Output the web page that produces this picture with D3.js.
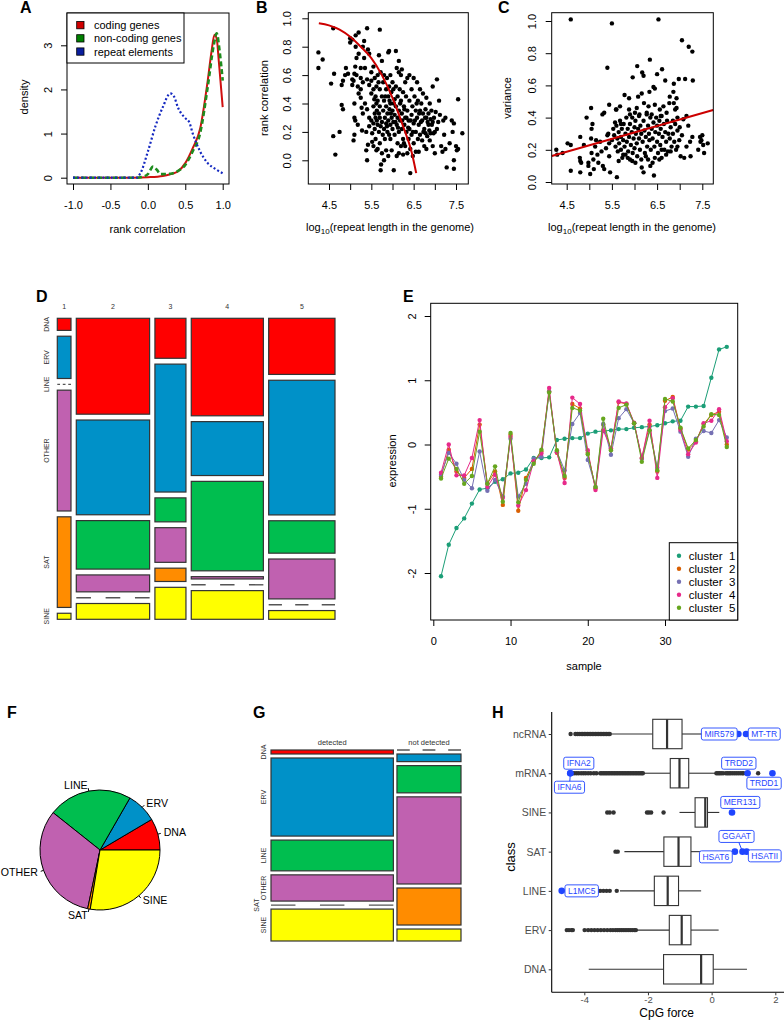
<!DOCTYPE html>
<html><head><meta charset="utf-8">
<script src="https://cdn.jsdelivr.net/npm/d3@7"></script>
<style>body{margin:0;background:#fff} text{font-family:"Liberation Sans",Arial,Helvetica,sans-serif}</style>
</head><body><svg id="c" width="784" height="1020"></svg>
<script>
// ---------------- DATA ----------------
// Panel A: density curves [rank correlation, density]
const densCoding = [[-1,0],[-0.5,0],[-0.2,0],[0,0.01],[0.2,0.04],[0.3,0.08],[0.4,0.14],[0.5,0.33],[0.6,0.67],[0.7,1.12],[0.8,2.2],[0.85,2.85],[0.89,3.24],[0.92,3.15],[0.95,2.6],[1.0,1.6]];
const densNonCoding = [[-1,0],[-0.5,0],[-0.15,0],[-0.05,0.03],[0,0.08],[0.07,0.25],[0.12,0.18],[0.17,0.08],[0.3,0.09],[0.4,0.15],[0.5,0.29],[0.6,0.6],[0.7,1.02],[0.8,2.06],[0.88,3.0],[0.92,3.27],[0.96,2.85],[1.0,2.2]];
const densRepeat = [[-1,0],[-0.5,0],[-0.15,0],[-0.1,0.1],[0,0.59],[0.1,1.16],[0.2,1.6],[0.3,1.91],[0.35,1.84],[0.4,1.6],[0.5,1.35],[0.55,1.27],[0.6,1.0],[0.7,0.59],[0.8,0.33],[0.9,0.2],[1.0,0.1]];
const legendA = ["coding genes","non-coding genes","repeat elements"];
const ticksA_x = [-1,-0.5,0,0.5,1], ticksA_xl = ["-1.0","-0.5","0.0","0.5","1.0"];
const ticksA_y = [0,1,2,3];

// Panel B: scatter [log10 length, rank correlation] + fitted curve
const scatterB = [[4.25,0.76],[4.25,0.65],[4.35,0.71],[4.55,0.54],[4.6,0.93],[4.62,0.61],[4.6,0.17],[4.65,0.04],[4.75,0.2],[4.8,0.53],[4.83,0.56],[4.8,0.39],[4.83,0.36],[4.88,0.6],[4.9,0.65],[4.95,0.61],
[5.0,0.86],[5.0,0.83],[5.05,0.85],[5.05,0.57],[5.08,0.56],[5.05,0.53],[5.1,0.4],[5.1,0.3],[5.12,0.28],[5.1,0.18],[5.08,0.14],[5.13,0.88],[5.13,0.8],[5.15,0.72],[5.15,0.6],[5.18,0.52],[5.18,0.25],[5.2,0.9],[5.2,0.75],[5.2,0.47],[5.1,0.61],[5.12,0.66],
[5.25,0.65],[5.25,0.58],[5.25,0.5],[5.25,0.44],[5.27,0.37],[5.28,0.21],[5.3,0.8],[5.3,0.55],[5.3,0.33],[5.33,0.84],[5.33,0.72],[5.35,0.65],[5.35,0.4],[5.38,0.2],[5.4,0.93],[5.4,0.57],[5.4,0.36],[5.4,0.0],[5.42,0.78],[5.45,0.75],[5.45,0.53],[5.45,0.3],[5.45,0.24],[5.42,0.11],[5.38,0.07],
[5.5,0.62],[5.5,0.56],[5.5,0.47],[5.5,0.28],[5.52,0.19],[5.52,0.13],[5.55,0.66],[5.55,0.5],[5.55,0.38],[5.55,0.26],[5.55,0.1],[5.58,0.58],[5.58,0.33],[5.58,0.22],[5.6,0.45],[5.6,0.3],[5.6,0.15],[5.62,0.52],[5.62,0.07],[5.63,0.35],[5.65,0.6],[5.65,0.42],[5.65,0.25],[5.65,0.08],[5.67,0.55],[5.68,0.2],[5.7,0.92],[5.7,0.5],[5.7,0.38],[5.7,0.3],[5.7,0.12],[5.72,-0.07],[5.73,-0.03],[5.72,0.62],[5.75,0.7],[5.75,0.45],[5.75,0.27],[5.75,0.05],[5.68,0.74],
[5.78,0.55],[5.78,0.35],[5.8,0.6],[5.8,0.42],[5.8,0.22],[5.8,0.0],[5.82,0.3],[5.82,0.15],[5.85,0.5],[5.85,0.38],[5.85,0.26],[5.85,0.07],[5.87,0.58],[5.88,0.33],[5.88,0.2],[5.9,0.76],[5.9,0.45],[5.9,0.28],[5.9,0.03],[5.92,0.77],[5.92,0.52],[5.93,0.36],[5.95,0.6],[5.95,0.4],[5.95,0.25],[5.95,0.15],[5.97,0.48],[5.98,0.3],[5.98,0.07],[6.0,0.55],[6.0,0.35],[6.0,0.22],
[6.02,0.5],[6.02,0.27],[6.03,-0.07],[6.05,0.43],[6.05,0.32],[6.05,0.18],[6.08,0.77],[6.08,0.52],[6.08,0.38],[6.1,0.65],[6.1,0.25],[6.1,0.03],[6.12,0.45],[6.12,0.3],[6.12,0.12],[6.15,0.7],[6.15,0.62],[6.15,0.35],[6.15,0.2],[6.15,0.05],[6.17,0.5],[6.18,0.28],[6.2,0.6],[6.2,0.42],[6.2,0.1],[6.22,0.64],[6.22,0.33],[6.22,0.22],[6.25,0.48],[6.25,0.15],[6.25,0.04],
[6.27,0.38],[6.28,0.25],[6.3,0.55],[6.3,0.3],[6.3,0.1],[6.32,0.45],[6.33,0.2],[6.35,0.58],[6.35,0.35],[6.35,0.05],[6.38,0.28],[6.38,0.15],[6.4,0.6],[6.4,0.42],[6.4,0.22],[6.42,-0.09],[6.42,0.08],[6.45,0.5],[6.45,0.32],[6.45,0.18],[6.47,0.38],[6.5,0.58],[6.5,0.26],[6.5,0.12],[6.48,0.03],
[6.52,0.45],[6.55,0.35],[6.55,0.2],[6.55,0.06],[6.58,0.55],[6.58,0.3],[6.6,0.42],[6.6,0.15],[6.62,0.25],[6.62,0.06],[6.65,0.5],[6.65,0.35],[6.65,0.18],[6.68,0.4],[6.7,0.28],[6.7,0.14],[6.72,0.47],[6.72,0.33],[6.75,0.22],[6.75,0.1],[6.78,0.36],[6.78,0.19],[6.8,0.3],[6.8,0.44],[6.8,0.08],
[6.82,0.17],[6.85,0.33],[6.85,0.25],[6.88,0.4],[6.88,0.14],[6.9,0.29],[6.9,0.19],[6.92,0.35],[6.95,0.52],[6.95,0.27],[6.95,0.1],[6.98,0.3],[7.0,0.2],[7.0,0.05],[7.02,0.34],[7.05,0.57],[7.05,0.22],[7.08,0.27],[7.1,0.42],
[7.12,0.32],[7.15,0.1],[7.18,0.06],[7.2,0.28],[7.22,0.18],[7.25,0.3],[7.25,0.08],[7.28,-0.05],[7.35,0.12],[7.4,0.28],[7.42,0.2],[7.45,0.26],[7.45,-0.06],[7.45,0.0],[7.5,0.1],[7.52,0.07],[7.55,0.43],[7.55,0.08],[7.65,0.19],
[5.62,0.4],[5.68,0.33],[5.72,0.24],[5.77,0.18],[5.83,0.45],[5.87,0.24],[5.92,0.18],[5.96,0.33],[6.03,0.4],[6.07,0.27],[6.13,0.23],[6.18,0.4],[6.23,0.28],[6.28,0.36],[6.33,0.3],[6.37,0.23],[6.43,0.28],[6.48,0.2],[6.53,0.28],[6.57,0.4],[6.63,0.33],[6.67,0.27],[6.73,0.2],[6.77,0.3],[6.83,0.27],[6.87,0.21],[6.93,0.25],[6.97,0.19],[5.57,0.43],[5.63,0.28],[5.93,0.42],[6.27,0.12]];
const fitB = [[4.26,0.965],[4.5,0.95],[4.75,0.92],[5.0,0.87],[5.25,0.8],[5.5,0.72],[5.75,0.6],[6.0,0.44],[6.25,0.24],[6.45,0.06],[6.56,-0.09]];
const ticksBC_x = [4.5,5,5.5,6,6.5,7,7.5], ticksBC_xl = ["4.5","5.5","6.5","7.5"];
const ticksB_y = [0,0.2,0.4,0.6,0.8,1.0];

// Panel C: scatter [log10 length, variance] + regression line
const scatterC = [[4.59,1.01],[5.5,0.985],[6.53,1.01],[7.05,0.88],[7.2,0.84],[7.28,0.81],[7.29,0.63],[5.4,0.71],[6.34,0.76],[6.06,0.72],[6.17,0.68],[6.2,0.66],[6.61,0.7],[6.5,0.67],[5.96,0.65],[6.68,0.63],[6.87,0.61],[6.98,0.64],[7.12,0.64],[6.42,0.59],[6.45,0.58],[6.33,0.56],[6.86,0.56],[5.78,0.54],[6.08,0.53],[5.88,0.52],[6.16,0.55],[6.93,0.52],[6.78,0.53],[6.77,0.49],[6.87,0.49],[6.93,0.46],[5.44,0.48],[5.68,0.47],[5.6,0.45],[5.04,0.46],[4.94,0.4],[5.29,0.42],[5.33,0.43],[6.21,0.49],[6.31,0.47],[6.45,0.48],[6.56,0.45],[6.64,0.47],[6.71,0.43],[6.01,0.43],[5.9,0.42],[6.11,0.42],[6.27,0.43],[6.38,0.42],[6.58,0.41],[7.15,0.41],[7.08,0.39],[7.0,0.34],[7.19,0.35],[7.28,0.28],[7.23,0.25],[7.05,0.29],[6.99,0.26],[6.95,0.22],[7.02,0.16],[7.1,0.15],[7.15,0.22],[7.24,0.16],[7.41,0.2],[7.45,0.28],[7.5,0.29],[7.48,0.26],[7.52,0.23],[7.54,0.18],[7.62,0.24],[7.46,0.25],
[4.27,0.2],[4.29,0.17],[4.41,0.18],[4.52,0.24],[4.59,0.23],[4.59,0.07],[4.8,0.13],[4.8,0.28],[4.79,0.15],[4.82,0.12],[4.88,0.23],[4.8,0.06],[4.98,0.12],[4.98,0.1],[5.02,0.05],[5.04,0.27],[5.05,0.33],[5.07,0.36],[5.05,0.18],[5.09,0.14],[5.1,0.08],[5.13,0.22],[5.15,0.26],[5.18,0.17],[5.2,0.12],[5.24,0.25],[5.27,0.19],[5.3,0.1],[5.33,0.08],[5.37,0.21],[5.4,0.29],[5.44,0.24],[5.46,0.06],[5.5,0.26],[5.44,0.16],[5.42,0.3],[5.61,0.03],[5.59,0.45],[5.57,0.37],[5.53,0.33],
[5.55,0.29],[5.58,0.22],[5.6,0.35],[5.62,0.27],[5.63,0.19],[5.65,0.31],[5.66,0.24],[5.68,0.38],[5.7,0.28],[5.7,0.2],[5.72,0.33],[5.73,0.15],[5.75,0.26],[5.76,0.36],[5.78,0.22],[5.8,0.3],[5.8,0.17],[5.82,0.4],[5.83,0.25],[5.85,0.33],[5.86,0.19],[5.88,0.28],[5.9,0.36],[5.9,0.14],[5.92,0.23],[5.94,0.31],[5.95,0.4],[5.96,0.18],[5.98,0.27],[6.0,0.34],[6.0,0.21],[6.02,0.38],[6.03,0.3],[6.05,0.24],[6.06,0.16],[6.08,0.33],[6.1,0.27],[6.1,0.41],[6.12,0.2],[6.13,0.35],[6.15,0.3],[6.16,0.09],[6.18,0.25],[6.2,0.38],[6.2,0.06],[6.22,0.32],[6.23,0.18],[6.25,0.28],[6.27,0.42],[6.28,0.22],[6.3,0.35],[6.3,0.14],[6.32,0.3],[6.33,0.26],[6.35,0.4],[6.36,0.2],[6.38,0.33],[6.4,0.27],[6.4,0.12],[6.42,0.37],[6.43,0.04],[6.44,0.22],[6.46,0.31],[6.48,0.4],[6.5,0.25],[6.5,0.35],[6.52,0.18],[6.54,0.3],[6.55,0.38],[6.57,0.23],[6.58,0.33],[6.6,0.41],[6.6,0.15],[6.62,0.28],[6.65,0.36],[6.66,0.2],[6.68,0.31],[6.7,0.25],[6.72,0.38],[6.74,0.19],[6.75,0.3],[6.78,0.27],[6.8,0.34],[6.82,0.22],[6.85,0.3],[6.88,0.25],[6.9,0.36],[6.92,0.2],[6.95,0.32],[5.65,0.13],[5.7,0.36],[5.75,0.17],[5.85,0.15],[5.88,0.45],[5.95,0.13],[6.02,0.12],[6.05,0.46],[6.15,0.14],[6.25,0.16],[6.35,0.1],[6.45,0.15],[6.55,0.14],[6.6,0.2],[6.7,0.17],[6.8,0.19],[6.85,0.38],[6.9,0.45],[6.95,0.4]];
const fitC = [[4.17,0.161],[7.74,0.447]];
const ticksC_y = [0,0.2,0.4,0.6,0.8,1.0];

// Panel D: mosaic counts, clusters (columns) x repeat class (rows)
const repClasses = ["DNA","ERV","LINE","OTHER","SAT","SINE"];
const classColors = ["#FF0000","#0091C8","#00BE4F","#C061B0","#FF8C00","#FFFF00"];
const clusterNames = ["1","2","3","4","5"];
const mosaicD = [
  [2,7,0,20,15,1],
  [85,84,43,15,0,14],
  [15,48,9,13,5,12],
  [85,47,78,2,0,25],
  [45,108,26,32,0,7]
];

// Panel E: cluster profiles across 38 samples
const samples = d3.range(1,39);
const cluster1 = [-2.05,-1.56,-1.30,-1.15,-0.92,-0.70,-0.68,-0.58,-0.54,-0.45,-0.44,-0.39,-0.21,-0.21,-0.20,0.07,0.09,0.10,0.10,0.17,0.20,0.21,0.22,0.24,0.24,0.26,0.27,0.28,0.30,0.33,0.36,0.37,0.59,0.59,0.60,1.04,1.48,1.52];
const cluster2 = [-0.50,-0.08,-0.42,-0.52,-0.38,0.31,-0.61,-0.42,-0.94,0.15,-1.03,-0.52,-0.26,-0.11,0.83,-0.13,-0.52,0.63,0.56,-0.13,-0.68,0.31,-0.08,0.66,0.63,0.33,-0.21,0.31,-0.42,0.68,0.74,0.25,-0.08,0.05,0.32,0.46,0.51,0.00];
const cluster3 = [-0.47,-0.13,-0.30,-0.55,-0.68,-0.11,-0.72,-0.55,-0.81,0.09,-0.81,-0.61,-0.22,-0.19,0.82,-0.11,-0.40,0.32,0.49,-0.24,-0.66,0.32,-0.16,0.41,0.55,0.33,-0.22,0.22,-0.36,0.52,0.56,0.20,-0.19,0.09,0.21,0.18,0.38,0.11];
const cluster4 = [-0.44,0.00,-0.48,-0.48,-0.21,0.38,-0.66,-0.47,-0.83,0.12,-0.95,-0.71,-0.26,-0.14,0.88,-0.12,-0.60,0.73,0.63,-0.09,-0.71,0.22,-0.06,0.67,0.64,0.34,-0.21,0.37,-0.52,0.58,0.72,0.23,-0.15,0.03,0.33,0.37,0.55,0.05];
const cluster5 = [-0.53,-0.22,-0.38,-0.61,-0.49,0.20,-0.61,-0.34,-0.89,0.18,-0.90,-0.55,-0.30,-0.08,0.81,-0.09,-0.49,0.57,0.53,-0.15,-0.66,0.40,-0.09,0.57,0.62,0.33,-0.27,0.22,-0.40,0.71,0.67,0.26,-0.06,0.07,0.28,0.47,0.46,-0.04];
const clusterSeries = [cluster1,cluster2,cluster3,cluster4,cluster5];
const clusterColors = ["#1B9E77","#D95F02","#7570B3","#E7298A","#66A61E"];
const ticksE_x = [0,10,20,30], ticksE_y = [-2,-1,0,1,2];

// Panel F: pie shares (%)
const pieValues = [8.5,8.2,22.6,32.4,0.7,27.6];

// Panel G: mosaic detected / not detected
const detectNames = ["detected","not detected"];
const mosaicG = [
  [7,137,54,46,0,56],
  [0,7,25,80,34,11]
];

// Panel H: CpG force boxplots
const hClasses = ["ncRNA","mRNA","SINE","SAT","LINE","ERV","DNA"];
const hLo  = [-3.17,-2.13,-1.01,-2.74,-2.88,-2.37,-3.86];
const hQ1  = [-1.85,-1.30,-0.52,-1.50,-1.80,-1.33,-1.51];
const hMed = [-1.40,-1.01,-0.20,-1.04,-1.38,-0.94,-0.33];
const hQ3  = [-0.93,-0.72,-0.13,-0.65,-1.04,-0.65,0.05];
const hHi  = [-0.30,0.14,0.24,0.20,-0.33,0.22,1.11];
const hOutliers = [
  [-4.43,-4.28,-4.22,-4.16,-4.1,-4.05,-4.0,-3.95,-3.9,-3.85,-3.8,-3.75,-3.7,-3.65,-3.6,-3.55,-3.5,-3.45,-3.4,-3.35,-3.3,-3.25,-3.2],
  [-4.38,-4.32,-4.25,-4.18,-4.1,-4.03,-3.96,-3.88,-3.8,-3.7,-3.62,-3.5,-3.45,-3.4,-3.35,-3.3,-3.25,-3.2,-3.15,-3.1,-3.05,-3.0,-2.95,-2.9,-2.85,-2.8,-2.75,-2.7,-2.65,-2.6,-2.55,-2.5,-2.45,-2.4,-2.35,-2.3,-2.25,-2.2,-2.16,0.15,0.2,0.25,0.3,0.36,0.45,0.5,0.55,0.6,0.66,0.72,0.78,0.84,0.9,0.96,1.0,1.46],
  [-3.28,-3.2,-3.08,-2.03,-1.97,-1.9,-1.51],
  [-3.02,-2.95],
  [-3.57,-3.5,-3.4,-3.3,-3.2,-2.98],
  [-4.55,-4.48,-4.4,-4.36,-3.99,-3.88,-3.78,-3.68,-3.58,-3.48,-3.38,-3.28,-3.18,-3.1,-3.02,-2.96,-2.9,-2.84,-2.78,-2.72,-2.66,-2.6,-2.54,-2.48,-2.42,-2.38],
  []
];
const hlNames = ["MIR579","MT-TR","IFNA2","IFNA6","TRDD2","TRDD1","MER131","GGAAT","HSAT6","HSATII","L1MC5"];
const hlClass = ["ncRNA","ncRNA","mRNA","mRNA","mRNA","mRNA","SINE","SAT","SAT","SAT","LINE"];
const hlValue = [0.84,1.08,-4.44,-4.44,1.13,1.91,0.64,0.97,0.73,1.10,-4.71];
const ticksH_x = [-4,-2,0,2];

// ---------------- DRAWING ----------------
const svg = d3.select("#c");
svg.append("rect").attr("width",784).attr("height",1020).attr("fill","#fff");

function txt(g,x,y,s,o={}){
  const t=g.append("text").attr("x",x).attr("y",y).text(s)
    .attr("font-size",o.size||11).attr("text-anchor",o.anchor||"middle")
    .attr("fill",o.fill||"#000");
  if(o.weight) t.attr("font-weight",o.weight);
  if(o.dy) t.attr("dy",o.dy);
  if(o.rotate) t.attr("transform",`rotate(${o.rotate},${x},${y})`);
  return t;
}
function panelLetter(x,y,s){ txt(svg,x,y,s,{size:16,weight:"bold",anchor:"start"}); }

// R-style axes
function rAxisBottom(scale, ticks, labelMap, y, dist, size){
  const g=svg.append("g").attr("transform",`translate(0,${y})`)
    .call(d3.axisBottom(scale).tickValues(ticks).tickSize(6).tickSizeOuter(0)
      .tickFormat(d=>labelMap(d)));
  g.select(".domain").remove();
  g.selectAll(".tick line").attr("stroke","#000");
  g.selectAll("text").attr("y",dist).attr("dy","0.35em").attr("font-size",size||11)
    .attr("font-family",'"Liberation Sans",Arial,sans-serif').attr("fill","#000");
  return g;
}
function rAxisLeft(scale, ticks, labelMap, x, dist, size){
  const g=svg.append("g").attr("transform",`translate(${x},0)`)
    .call(d3.axisLeft(scale).tickValues(ticks).tickSize(6).tickSizeOuter(0)
      .tickFormat(d=>labelMap(d)));
  g.select(".domain").remove();
  g.selectAll(".tick line").attr("stroke","#000");
  g.selectAll("text").attr("x",null).attr("dy","0.35em").attr("text-anchor","middle")
    .attr("transform",`translate(${-dist},0) rotate(-90)`).attr("font-size",size||11)
    .attr("font-family",'"Liberation Sans",Arial,sans-serif').attr("fill","#000");
  return g;
}
function box(x0,y0,x1,y1){
  svg.append("rect").attr("x",x0).attr("y",y0).attr("width",x1-x0).attr("height",y1-y0)
    .attr("fill","none").attr("stroke","#000").attr("stroke-width",1);
}
function log10Label(x,y){
  const t=svg.append("text").attr("x",x).attr("y",y).attr("text-anchor","middle").attr("font-size",11);
  t.append("tspan").text("log");
  t.append("tspan").text("10").attr("font-size",8).attr("dy",3);
  t.append("tspan").text("(repeat length in the genome)").attr("dy",-3);
}

// ---- Panel A ----
{
  const x=d3.scaleLinear([-1,1],[73,222.7]), y=d3.scaleLinear([0,3],[177.7,45.3]);
  const line=d3.line().x(d=>x(d[0])).y(d=>y(d[1])).curve(d3.curveMonotoneX);
  svg.append("path").attr("d",line(densCoding)).attr("fill","none").attr("stroke","#D01010").attr("stroke-width",2);
  svg.append("path").attr("d",line(densNonCoding)).attr("fill","none").attr("stroke","#1E8C1E").attr("stroke-width",2.6).attr("stroke-dasharray","5,3");
  svg.append("path").attr("d",line(densRepeat)).attr("fill","none").attr("stroke","#1428C0").attr("stroke-width",2.2).attr("stroke-dasharray","2,2.2");
  box(67,13,229,184);
  rAxisBottom(x,ticksA_x,d=>ticksA_xl[ticksA_x.indexOf(d)],184,21);
  rAxisLeft(y,ticksA_y,d=>String(d),67,19);
  txt(svg,147.5,233,"rank correlation",{size:11});
  txt(svg,24,97,"density",{size:11,rotate:-90,dy:"0.35em"});
  svg.append("rect").attr("x",67).attr("y",13).attr("width",117).attr("height",50).attr("fill","#fff").attr("stroke","#000");
  const lc=["#D00000","#008000","#0A1E9E"];
  legendA.forEach((s,i)=>{
    svg.append("rect").attr("x",76.7).attr("y",21.5+i*13.2).attr("width",7.3).attr("height",7.3).attr("fill",lc[i]).attr("stroke","#000").attr("stroke-width",0.8);
    txt(svg,94,25.3+i*13.2,s,{size:11,anchor:"start",dy:"0.35em"});
  });
  panelLetter(20,13,"A");
}

// ---- Panel B ----
{
  const x=d3.scaleLinear([4.5,7.5],[329,456]), y=d3.scaleLinear([0,1],[160.3,18.3]);
  svg.append("g").selectAll("circle").data(scatterB).join("circle")
    .attr("cx",d=>x(d[0])).attr("cy",d=>y(d[1])).attr("r",2.2).attr("fill","#000");
  svg.append("path").attr("d",d3.line().x(d=>x(d[0])).y(d=>y(d[1])).curve(d3.curveMonotoneX)(fitB))
    .attr("fill","none").attr("stroke","#CC0000").attr("stroke-width",2);
  box(308.3,12.7,468.3,184);
  rAxisBottom(x,ticksBC_x,d=>{const s=d.toFixed(1);return ticksBC_xl.includes(s)?s:"";},184,21);
  rAxisLeft(y,ticksB_y,d=>d.toFixed(1),308.3,21.6);
  txt(svg,264.3,98,"rank correlation",{size:11,rotate:-90,dy:"0.35em"});
  log10Label(390,231);
  panelLetter(256,13,"B");
}

// ---- Panel C ----
{
  const x=d3.scaleLinear([4.5,7.5],[566.7,702.3]), y=d3.scaleLinear([0,1],[182,21]);
  svg.append("g").selectAll("circle").data(scatterC).join("circle")
    .attr("cx",d=>x(d[0])).attr("cy",d=>y(d[1])).attr("r",2.2).attr("fill","#000");
  svg.append("path").attr("d",d3.line().x(d=>x(d[0])).y(d=>y(d[1]))(fitC))
    .attr("fill","none").attr("stroke","#CC0000").attr("stroke-width",2);
  box(551.7,12.7,713.3,184);
  rAxisBottom(x,ticksBC_x,d=>{const s=d.toFixed(1);return ticksBC_xl.includes(s)?s:"";},184,21);
  rAxisLeft(y,ticksC_y,d=>d.toFixed(1),551.7,19.7);
  txt(svg,507,98,"variance",{size:11,rotate:-90,dy:"0.35em"});
  log10Label(632,231);
  panelLetter(498,13,"C");
}

// ---- Mosaic helper ----
function mosaic(counts, colNames, x0,x1,y0,y1,colGap,rowGap, colLabY, rowLabX, colLabSize){
  const totals=counts.map(c=>d3.sum(c)), grand=d3.sum(totals);
  const nR=counts[0].length;
  const xs=d3.scaleLinear([0,grand],[0,(x1-x0)-colGap*(counts.length-1)]);
  let cx=x0, prevEnd=-1e9;
  counts.forEach((col,ci)=>{
    const w=xs(totals[ci]);
    const ys=d3.scaleLinear([0,totals[ci]],[0,(y1-y0)-rowGap*(nR-1)]);
    let cy=y0;
    col.forEach((v,ri)=>{
      const h=ys(v);
      if(v>0){
        svg.append("rect").attr("x",cx).attr("y",cy).attr("width",w).attr("height",h)
          .attr("fill",classColors[ri]).attr("stroke","#333").attr("stroke-width",1.2);
      } else {
        svg.append("line").attr("x1",cx).attr("x2",cx+w).attr("y1",cy).attr("y2",cy)
          .attr("stroke","#555").attr("stroke-width",1.4).attr("stroke-dasharray",`${w/5},${w/5}`);
      }
      if(ci===0){
        const t=txt(svg,rowLabX,cy+h/2,repClasses[ri],{size:7,rotate:-90,dy:"0.35em",fill:"#333"});
        const len=t.node().getComputedTextLength();
        const start=cy+h/2-len/2;
        if(start<prevEnd+1){
          const nx=rowLabX-6.5;
          t.attr("x",nx).attr("transform",`rotate(-90,${nx},${cy+h/2})`);
        }
        prevEnd=cy+h/2+len/2;
      }
      cy+=h+rowGap;
    });
    txt(svg,cx+w/2,colLabY,colNames[ci],{size:colLabSize||7,dy:"0.35em",fill:"#333"});
    cx+=w+colGap;
  });
}

// ---- Panel D ----
mosaic(mosaicD, clusterNames, 57.3,335,318.3,619.3,5.3,5.83, 306.7, 46.7, 7);
panelLetter(36,302,"D");

// ---- Panel E ----
{
  const x=d3.scaleLinear([0,30],[433.3,665]), y=d3.scaleLinear([-2,2],[573,316]);
  const line=d3.line().x((d,i)=>x(samples[i])).y(d=>y(d));
  clusterSeries.forEach((s,k)=>{
    svg.append("path").attr("d",line(s)).attr("fill","none").attr("stroke",clusterColors[k]).attr("stroke-width",1);
    svg.append("g").selectAll("circle").data(s).join("circle")
      .attr("cx",(d,i)=>x(samples[i])).attr("cy",d=>y(d)).attr("r",2.2).attr("fill",clusterColors[k]);
  });
  box(430.7,303.3,737.7,620);
  rAxisBottom(x,ticksE_x,d=>String(d),620,21);
  rAxisLeft(y,ticksE_y,d=>String(d),430.7,19);
  txt(svg,584,666,"sample",{size:11,dy:"0.35em"});
  txt(svg,392,461,"expression",{size:11,rotate:-90,dy:"0.35em"});
  svg.append("rect").attr("x",669.3).attr("y",542.7).attr("width",68.4).attr("height",77.3).attr("fill","#fff").attr("stroke","#000");
  clusterColors.forEach((c,k)=>{
    svg.append("circle").attr("cx",679).attr("cy",555.7+k*13).attr("r",2.2).attr("fill",c);
    txt(svg,688.7,555.7+k*13,"cluster  "+(k+1),{size:11.5,anchor:"start",dy:"0.35em"}).style("white-space","pre");
  });
  panelLetter(403,302,"E");
}

// ---- Panel F: pie ----
{
  const cx=100, cy=850, r=60;
  const pie=d3.pie().sort(null).startAngle(Math.PI/2).endAngle(Math.PI/2-2*Math.PI);
  const arcs=pie(pieValues);
  const arc=d3.arc().innerRadius(0).outerRadius(r);
  const g=svg.append("g").attr("transform",`translate(${cx},${cy})`);
  g.selectAll("path").data(arcs).join("path").attr("d",arc)
    .attr("fill",(d,i)=>classColors[i]).attr("stroke","#000").attr("stroke-width",1);
  arcs.forEach((a,i)=>{
    const m=(a.startAngle+a.endAngle)/2; // d3 angle, 0 at top, clockwise
    const sx=Math.sin(m), sy=-Math.cos(m);
    g.append("line").attr("x1",r*sx).attr("y1",r*sy).attr("x2",1.05*r*sx).attr("y2",1.05*r*sy).attr("stroke","#000");
    txt(g,1.1*r*sx,1.1*r*sy,repClasses[i],{size:10.6,anchor:sx>0?"start":"end",dy:"0.35em"});
  });
  panelLetter(7,718,"F");
}

// ---- Panel G ----
mosaic(mosaicG, detectNames, 271,461,750,941,3.6,4, 742, 263.3, 7.5);
panelLetter(253,718,"G");

// ---- Panel H ----
{
  const x=d3.scaleLinear([-4,2],[584.3,775.3]);
  const y=d3.scalePoint(hClasses,[734,969.3]);
  const bh=14.7, blue="#1f45ff";
  svg.append("line").attr("x1",551.7).attr("x2",551.7).attr("y1",712).attr("y2",992.3).attr("stroke","#000").attr("stroke-width",1.1);
  svg.append("line").attr("x1",551.7).attr("x2",784).attr("y1",992.3).attr("y2",992.3).attr("stroke","#000").attr("stroke-width",1.1);
  const gx=svg.append("g").attr("transform","translate(0,992.3)").call(d3.axisBottom(x).tickValues(ticksH_x).tickSize(3).tickFormat(d=>String(d)));
  gx.select(".domain").remove();
  gx.selectAll(".tick line").attr("stroke","#333");
  gx.selectAll("text").attr("y",7.5).attr("dy","0.35em").attr("font-size",9.5).attr("fill","#4d4d4d").attr("font-family",'"Liberation Sans",Arial,sans-serif');
  const gy=svg.append("g").attr("transform","translate(551.7,0)").call(d3.axisLeft(y).tickSize(3));
  gy.select(".domain").remove();
  gy.selectAll(".tick line").attr("stroke","#333");
  gy.selectAll("text").attr("x",-5.5).attr("font-size",10.5).attr("fill","#4d4d4d").attr("font-family",'"Liberation Sans",Arial,sans-serif');
  txt(svg,666.7,1013.2,"CpG force",{size:12,dy:"0.35em"});
  txt(svg,510,857,"class",{size:13,rotate:-90,dy:"0.35em"});
  hClasses.forEach((c,i)=>{
    const yc=y(c);
    svg.append("line").attr("x1",x(hLo[i])).attr("x2",x(hQ1[i])).attr("y1",yc).attr("y2",yc).attr("stroke","#333").attr("stroke-width",1.1);
    svg.append("line").attr("x1",x(hQ3[i])).attr("x2",x(hHi[i])).attr("y1",yc).attr("y2",yc).attr("stroke","#333").attr("stroke-width",1.1);
    svg.append("rect").attr("x",x(hQ1[i])).attr("y",yc-bh).attr("width",x(hQ3[i])-x(hQ1[i])).attr("height",2*bh)
      .attr("fill","#fff").attr("stroke","#333").attr("stroke-width",1.1);
    svg.append("line").attr("x1",x(hMed[i])).attr("x2",x(hMed[i])).attr("y1",yc-bh).attr("y2",yc+bh).attr("stroke","#333").attr("stroke-width",2.2);
    svg.append("g").selectAll("circle").data(hOutliers[i]).join("circle")
      .attr("cx",d=>x(d)).attr("cy",yc).attr("r",2.2).attr("fill","#333");
  });
  // highlighted points & labels (label nudges in px)
  const nudge=[[-19.1,0],[18.2,0],[8.5,-10],[-0.8,14],[-8.8,-10],[-8.4,10],[8.3,-10],[-6,-15.2],[-19,5.2],[18.1,4.2],[20,0]];
  hlNames.forEach((n,i)=>{
    const px=x(hlValue[i]), py=y(hlClass[i]);
    const lx=px+nudge[i][0], ly=py+nudge[i][1];
    if(Math.abs(nudge[i][1])>11){
      svg.append("line").attr("x1",px).attr("y1",py).attr("x2",lx).attr("y2",ly).attr("stroke",blue).attr("stroke-width",1);
    }
  });
  hlNames.forEach((n,i)=>{
    svg.append("circle").attr("cx",x(hlValue[i])).attr("cy",y(hlClass[i])).attr("r",3.3).attr("fill",blue);
  });
  hlNames.forEach((n,i)=>{
    const px=x(hlValue[i]), py=y(hlClass[i]);
    const lx=px+nudge[i][0], ly=py+nudge[i][1];
    const g=svg.append("g");
    const r=g.append("rect");
    const t=txt(g,lx,ly,n,{size:8.5,dy:"0.35em",fill:blue});
    const w=t.node().getComputedTextLength()+6;
    r.attr("x",lx-w/2).attr("y",ly-6).attr("width",w).attr("height",12).attr("rx",2)
      .attr("fill","#fff").attr("stroke",blue).attr("stroke-width",0.9);
  });
  panelLetter(492,718,"H");
}
</script></body></html>
